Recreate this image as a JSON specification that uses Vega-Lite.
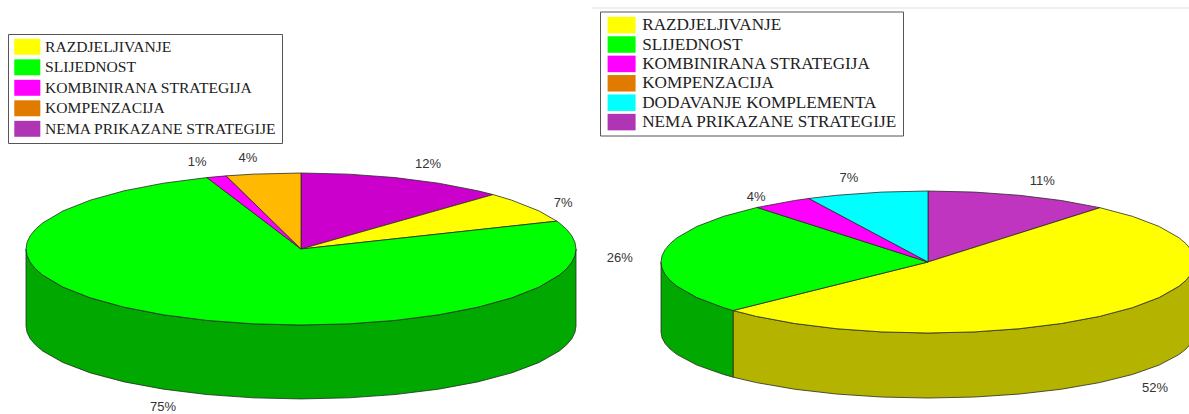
{"$schema":"https://vega.github.io/schema/vega-lite/v6.json","width":1189,"height":414,"padding":0,"autosize":{"type":"none"},"background":"white","config":{"view":{"stroke":null}},
"datasets":{
"lwall":[{"s":"SLIJEDNOST","o":1,"u":1,"v":0},{"s":"SLIJEDNOST","o":2,"u":0.9962,"v":-0.0872},{"s":"SLIJEDNOST","o":3,"u":0.9848,"v":-0.1736},{"s":"SLIJEDNOST","o":4,"u":0.9659,"v":-0.2588},{"s":"SLIJEDNOST","o":5,"u":0.9397,"v":-0.342},{"s":"SLIJEDNOST","o":6,"u":0.866,"v":-0.5},{"s":"SLIJEDNOST","o":7,"u":0.766,"v":-0.6428},{"s":"SLIJEDNOST","o":8,"u":0.6428,"v":-0.766},{"s":"SLIJEDNOST","o":9,"u":0.5,"v":-0.866},{"s":"SLIJEDNOST","o":10,"u":0.342,"v":-0.9397},{"s":"SLIJEDNOST","o":11,"u":0.1736,"v":-0.9848},{"s":"SLIJEDNOST","o":12,"u":0,"v":-1},{"s":"SLIJEDNOST","o":13,"u":-0.1736,"v":-0.9848},{"s":"SLIJEDNOST","o":14,"u":-0.342,"v":-0.9397},{"s":"SLIJEDNOST","o":15,"u":-0.5,"v":-0.866},{"s":"SLIJEDNOST","o":16,"u":-0.6428,"v":-0.766},{"s":"SLIJEDNOST","o":17,"u":-0.766,"v":-0.6428},{"s":"SLIJEDNOST","o":18,"u":-0.866,"v":-0.5},{"s":"SLIJEDNOST","o":19,"u":-0.9397,"v":-0.342},{"s":"SLIJEDNOST","o":20,"u":-0.9659,"v":-0.2588},{"s":"SLIJEDNOST","o":21,"u":-0.9848,"v":-0.1736},{"s":"SLIJEDNOST","o":22,"u":-0.9962,"v":-0.0872},{"s":"SLIJEDNOST","o":23,"u":-1,"v":0},
{"s":"SLIJEDNOST","o":24,"u":-1,"v":-1.013},{"s":"SLIJEDNOST","o":25,"u":-0.9962,"v":-1.0967},{"s":"SLIJEDNOST","o":26,"u":-0.9848,"v":-1.1797},{"s":"SLIJEDNOST","o":27,"u":-0.9659,"v":-1.2614},{"s":"SLIJEDNOST","o":28,"u":-0.9397,"v":-1.3413},{"s":"SLIJEDNOST","o":29,"u":-0.866,"v":-1.493},{"s":"SLIJEDNOST","o":30,"u":-0.766,"v":-1.6301},{"s":"SLIJEDNOST","o":31,"u":-0.6428,"v":-1.7484},{"s":"SLIJEDNOST","o":32,"u":-0.5,"v":-1.8444},{"s":"SLIJEDNOST","o":33,"u":-0.342,"v":-1.9151},{"s":"SLIJEDNOST","o":34,"u":-0.1736,"v":-1.9584},{"s":"SLIJEDNOST","o":35,"u":0,"v":-1.973},{"s":"SLIJEDNOST","o":36,"u":0.1736,"v":-1.9584},{"s":"SLIJEDNOST","o":37,"u":0.342,"v":-1.9151},{"s":"SLIJEDNOST","o":38,"u":0.5,"v":-1.8444},{"s":"SLIJEDNOST","o":39,"u":0.6428,"v":-1.7484},{"s":"SLIJEDNOST","o":40,"u":0.766,"v":-1.6301},{"s":"SLIJEDNOST","o":41,"u":0.866,"v":-1.493},{"s":"SLIJEDNOST","o":42,"u":0.9397,"v":-1.3413},{"s":"SLIJEDNOST","o":43,"u":0.9659,"v":-1.2614},{"s":"SLIJEDNOST","o":44,"u":0.9848,"v":-1.1797},{"s":"SLIJEDNOST","o":45,"u":0.9962,"v":-1.0967},{"s":"SLIJEDNOST","o":46,"u":1,"v":-1.013},{"s":"SLIJEDNOST","o":47,"u":1,"v":0}],
"ltop":[
{"s":"NEMA","o":1,"u":0,"v":0},{"s":"NEMA","o":2,"u":0,"v":1},{"s":"NEMA","o":3,"u":0.1736,"v":0.9848},{"s":"NEMA","o":4,"u":0.342,"v":0.9397},{"s":"NEMA","o":5,"u":0.5,"v":0.866},{"s":"NEMA","o":6,"u":0.6428,"v":0.766},{"s":"NEMA","o":7,"u":0.6984,"v":0.7157},{"s":"NEMA","o":8,"u":0,"v":0},
{"s":"RAZ","o":1,"u":0,"v":0},{"s":"RAZ","o":2,"u":0.6984,"v":0.7157},{"s":"RAZ","o":3,"u":0.766,"v":0.6428},{"s":"RAZ","o":4,"u":0.866,"v":0.5},{"s":"RAZ","o":5,"u":0.9304,"v":0.3665},{"s":"RAZ","o":6,"u":0,"v":0},
{"s":"SLI","o":1,"u":0,"v":0},{"s":"SLI","o":2,"u":0.9304,"v":0.3665},{"s":"SLI","o":3,"u":0.9397,"v":0.342},{"s":"SLI","o":4,"u":0.9659,"v":0.2588},{"s":"SLI","o":5,"u":0.9848,"v":0.1736},{"s":"SLI","o":6,"u":0.9962,"v":0.0872},{"s":"SLI","o":7,"u":1,"v":0},{"s":"SLI","o":8,"u":0.9962,"v":-0.0872},{"s":"SLI","o":9,"u":0.9848,"v":-0.1736},{"s":"SLI","o":10,"u":0.9659,"v":-0.2588},{"s":"SLI","o":11,"u":0.9397,"v":-0.342},{"s":"SLI","o":12,"u":0.866,"v":-0.5},{"s":"SLI","o":13,"u":0.766,"v":-0.6428},{"s":"SLI","o":14,"u":0.6428,"v":-0.766},{"s":"SLI","o":15,"u":0.5,"v":-0.866},{"s":"SLI","o":16,"u":0.342,"v":-0.9397},{"s":"SLI","o":17,"u":0.1736,"v":-0.9848},{"s":"SLI","o":18,"u":0,"v":-1},{"s":"SLI","o":19,"u":-0.1736,"v":-0.9848},{"s":"SLI","o":20,"u":-0.342,"v":-0.9397},{"s":"SLI","o":21,"u":-0.5,"v":-0.866},{"s":"SLI","o":22,"u":-0.6428,"v":-0.766},{"s":"SLI","o":23,"u":-0.766,"v":-0.6428},{"s":"SLI","o":24,"u":-0.866,"v":-0.5},{"s":"SLI","o":25,"u":-0.9397,"v":-0.342},{"s":"SLI","o":26,"u":-0.9659,"v":-0.2588},{"s":"SLI","o":27,"u":-0.9848,"v":-0.1736},{"s":"SLI","o":28,"u":-0.9962,"v":-0.0872},{"s":"SLI","o":29,"u":-1,"v":0},{"s":"SLI","o":30,"u":-0.9962,"v":0.0872},{"s":"SLI","o":31,"u":-0.9848,"v":0.1736},{"s":"SLI","o":32,"u":-0.9659,"v":0.2588},{"s":"SLI","o":33,"u":-0.9397,"v":0.342},{"s":"SLI","o":34,"u":-0.866,"v":0.5},{"s":"SLI","o":35,"u":-0.766,"v":0.6428},{"s":"SLI","o":36,"u":-0.6428,"v":0.766},{"s":"SLI","o":37,"u":-0.5,"v":0.866},{"s":"SLI","o":38,"u":-0.342,"v":0.9397},{"s":"SLI","o":39,"u":0,"v":0},
{"s":"KOMB","o":1,"u":0,"v":0},{"s":"KOMB","o":2,"u":-0.342,"v":0.9397},{"s":"KOMB","o":3,"u":-0.2723,"v":0.9622},{"s":"KOMB","o":4,"u":0,"v":0},
{"s":"KOMP","o":1,"u":0,"v":0},{"s":"KOMP","o":2,"u":-0.2723,"v":0.9622},{"s":"KOMP","o":3,"u":-0.1736,"v":0.9848},{"s":"KOMP","o":4,"u":0,"v":1},{"s":"KOMP","o":5,"u":0,"v":0}],
"rwall":[
{"s":"RAZ","o":1,"u":1,"v":0},{"s":"RAZ","o":2,"u":0.9962,"v":-0.0872},{"s":"RAZ","o":3,"u":0.9848,"v":-0.1736},{"s":"RAZ","o":4,"u":0.9659,"v":-0.2588},{"s":"RAZ","o":5,"u":0.9397,"v":-0.342},{"s":"RAZ","o":6,"u":0.866,"v":-0.5},{"s":"RAZ","o":7,"u":0.766,"v":-0.6428},{"s":"RAZ","o":8,"u":0.6428,"v":-0.766},{"s":"RAZ","o":9,"u":0.5,"v":-0.866},{"s":"RAZ","o":10,"u":0.342,"v":-0.9397},{"s":"RAZ","o":11,"u":0.1736,"v":-0.9848},{"s":"RAZ","o":12,"u":0,"v":-1},{"s":"RAZ","o":13,"u":-0.1736,"v":-0.9848},{"s":"RAZ","o":14,"u":-0.342,"v":-0.9397},{"s":"RAZ","o":15,"u":-0.5,"v":-0.866},{"s":"RAZ","o":16,"u":-0.6428,"v":-0.766},{"s":"RAZ","o":17,"u":-0.7302,"v":-0.6833},
{"s":"RAZ","o":18,"u":-0.7302,"v":-1.6215},{"s":"RAZ","o":19,"u":-0.6428,"v":-1.6984},{"s":"RAZ","o":20,"u":-0.5,"v":-1.7914},{"s":"RAZ","o":21,"u":-0.342,"v":-1.8599},{"s":"RAZ","o":22,"u":-0.1736,"v":-1.9019},{"s":"RAZ","o":23,"u":0,"v":-1.916},{"s":"RAZ","o":24,"u":0.1736,"v":-1.9019},{"s":"RAZ","o":25,"u":0.342,"v":-1.8599},{"s":"RAZ","o":26,"u":0.5,"v":-1.7914},{"s":"RAZ","o":27,"u":0.6428,"v":-1.6984},{"s":"RAZ","o":28,"u":0.766,"v":-1.5838},{"s":"RAZ","o":29,"u":0.866,"v":-1.451},{"s":"RAZ","o":30,"u":0.9397,"v":-1.3041},{"s":"RAZ","o":31,"u":0.9659,"v":-1.2267},{"s":"RAZ","o":32,"u":0.9848,"v":-1.1474},{"s":"RAZ","o":33,"u":0.9962,"v":-1.0671},{"s":"RAZ","o":34,"u":1,"v":-0.986},{"s":"RAZ","o":35,"u":1,"v":0},
{"s":"SLI","o":1,"u":-0.7302,"v":-0.6833},{"s":"SLI","o":2,"u":-0.766,"v":-0.6428},{"s":"SLI","o":3,"u":-0.866,"v":-0.5},{"s":"SLI","o":4,"u":-0.9397,"v":-0.342},{"s":"SLI","o":5,"u":-0.9659,"v":-0.2588},{"s":"SLI","o":6,"u":-0.9848,"v":-0.1736},{"s":"SLI","o":7,"u":-0.9962,"v":-0.0872},{"s":"SLI","o":8,"u":-1,"v":0},{"s":"SLI","o":9,"u":-1,"v":-0.986},{"s":"SLI","o":10,"u":-0.9962,"v":-1.0671},{"s":"SLI","o":11,"u":-0.9848,"v":-1.1474},{"s":"SLI","o":12,"u":-0.9659,"v":-1.2267},{"s":"SLI","o":13,"u":-0.9397,"v":-1.3041},{"s":"SLI","o":14,"u":-0.866,"v":-1.451},{"s":"SLI","o":15,"u":-0.766,"v":-1.5838},{"s":"SLI","o":16,"u":-0.7302,"v":-1.6215},{"s":"SLI","o":17,"u":-0.7302,"v":-0.6833}],
"rtop":[
{"s":"NEMA","o":1,"u":0,"v":0},{"s":"NEMA","o":2,"u":0,"v":1},{"s":"NEMA","o":3,"u":0.1736,"v":0.9848},{"s":"NEMA","o":4,"u":0.342,"v":0.9397},{"s":"NEMA","o":5,"u":0.5,"v":0.866},{"s":"NEMA","o":6,"u":0.6441,"v":0.7649},{"s":"NEMA","o":7,"u":0,"v":0},
{"s":"RAZ","o":1,"u":0,"v":0},{"s":"RAZ","o":2,"u":0.6441,"v":0.7649},{"s":"RAZ","o":3,"u":0.766,"v":0.6428},{"s":"RAZ","o":4,"u":0.866,"v":0.5},{"s":"RAZ","o":5,"u":0.9397,"v":0.342},{"s":"RAZ","o":6,"u":0.9659,"v":0.2588},{"s":"RAZ","o":7,"u":0.9848,"v":0.1736},{"s":"RAZ","o":8,"u":0.9962,"v":0.0872},{"s":"RAZ","o":9,"u":1,"v":0},{"s":"RAZ","o":10,"u":0.9962,"v":-0.0872},{"s":"RAZ","o":11,"u":0.9848,"v":-0.1736},{"s":"RAZ","o":12,"u":0.9659,"v":-0.2588},{"s":"RAZ","o":13,"u":0.9397,"v":-0.342},{"s":"RAZ","o":14,"u":0.866,"v":-0.5},{"s":"RAZ","o":15,"u":0.766,"v":-0.6428},{"s":"RAZ","o":16,"u":0.6428,"v":-0.766},{"s":"RAZ","o":17,"u":0.5,"v":-0.866},{"s":"RAZ","o":18,"u":0.342,"v":-0.9397},{"s":"RAZ","o":19,"u":0.1736,"v":-0.9848},{"s":"RAZ","o":20,"u":0,"v":-1},{"s":"RAZ","o":21,"u":-0.1736,"v":-0.9848},{"s":"RAZ","o":22,"u":-0.342,"v":-0.9397},{"s":"RAZ","o":23,"u":-0.5,"v":-0.866},{"s":"RAZ","o":24,"u":-0.6428,"v":-0.766},{"s":"RAZ","o":25,"u":-0.7302,"v":-0.6833},{"s":"RAZ","o":26,"u":0,"v":0},
{"s":"SLI","o":1,"u":0,"v":0},{"s":"SLI","o":2,"u":-0.7302,"v":-0.6833},{"s":"SLI","o":3,"u":-0.766,"v":-0.6428},{"s":"SLI","o":4,"u":-0.866,"v":-0.5},{"s":"SLI","o":5,"u":-0.9397,"v":-0.342},{"s":"SLI","o":6,"u":-0.9659,"v":-0.2588},{"s":"SLI","o":7,"u":-0.9848,"v":-0.1736},{"s":"SLI","o":8,"u":-0.9962,"v":-0.0872},{"s":"SLI","o":9,"u":-1,"v":0},{"s":"SLI","o":10,"u":-0.9962,"v":0.0872},{"s":"SLI","o":11,"u":-0.9848,"v":0.1736},{"s":"SLI","o":12,"u":-0.9659,"v":0.2588},{"s":"SLI","o":13,"u":-0.9397,"v":0.342},{"s":"SLI","o":14,"u":-0.866,"v":0.5},{"s":"SLI","o":15,"u":-0.766,"v":0.6428},{"s":"SLI","o":16,"u":-0.6401,"v":0.7683},{"s":"SLI","o":17,"u":0,"v":0},
{"s":"KOMB","o":1,"u":0,"v":0},{"s":"KOMB","o":2,"u":-0.6401,"v":0.7683},{"s":"KOMB","o":3,"u":-0.5,"v":0.866},{"s":"KOMB","o":4,"u":-0.4462,"v":0.8949},{"s":"KOMB","o":5,"u":0,"v":0},
{"s":"DOD","o":1,"u":0,"v":0},{"s":"DOD","o":2,"u":-0.4462,"v":0.8949},{"s":"DOD","o":3,"u":-0.342,"v":0.9397},{"s":"DOD","o":4,"u":-0.1736,"v":0.9848},{"s":"DOD","o":5,"u":0,"v":1},{"s":"DOD","o":6,"u":0,"v":0}],
"llab":[{"t":"1%","u":-0.378,"v":1.145},{"t":"4%","u":-0.193,"v":1.197},{"t":"12%","u":0.462,"v":1.118},{"t":"7%","u":0.953,"v":0.605},{"t":"75%","u":-0.502,"v":-2.079}],
"rlab":[{"t":"4%","u":-0.644,"v":0.915},{"t":"7%","u":-0.296,"v":1.183},{"t":"11%","u":0.428,"v":1.141},{"t":"52%","u":0.85,"v":-1.775},{"t":"26%","u":-1.154,"v":0.056}],
"lleg":[{"strategija":"RAZDJELJIVANJE","udio":7},{"strategija":"SLIJEDNOST","udio":75},{"strategija":"KOMBINIRANA STRATEGIJA","udio":1},{"strategija":"KOMPENZACIJA","udio":4},{"strategija":"NEMA PRIKAZANE STRATEGIJE","udio":12}],
"rleg":[{"strategija":"RAZDJELJIVANJE","udio":52},{"strategija":"SLIJEDNOST","udio":26},{"strategija":"KOMBINIRANA STRATEGIJA","udio":4},{"strategija":"KOMPENZACIJA","udio":0},{"strategija":"DODAVANJE KOMPLEMENTA","udio":7},{"strategija":"NEMA PRIKAZANE STRATEGIJE","udio":11}],
"line":[{"x":592,"x2":1189,"y":8}]
},
"layer":[
{"data":{"name":"line"},"mark":{"type":"rule","color":"#dfdfe3","strokeWidth":1},"encoding":{"x":{"field":"x","type":"quantitative","axis":null,"scale":{"domain":[0,1189],"range":[0,1189]}},"x2":{"field":"x2"},"y":{"field":"y","type":"quantitative","axis":null,"scale":{"domain":[0,414],"range":[0,414]}}}},
{"data":{"name":"lwall"},"mark":{"type":"line","stroke":"#1e2e1e","strokeWidth":0.8},"encoding":{"x":{"field":"u","type":"quantitative","axis":null,"scale":{"domain":[-1,1],"range":[26,576]}},"y":{"field":"v","type":"quantitative","axis":null,"scale":{"domain":[-1,1],"range":[325,173]}},"order":{"field":"o"},"fill":{"field":"s","legend":null,"scale":{"domain":["SLIJEDNOST"],"range":["#00a800"]}}}},
{"data":{"name":"ltop"},"mark":{"type":"line","stroke":"#2a2a2a","strokeWidth":0.8},"encoding":{"x":{"field":"u","type":"quantitative","axis":null,"scale":{"domain":[-1,1],"range":[26,576]}},"y":{"field":"v","type":"quantitative","axis":null,"scale":{"domain":[-1,1],"range":[325,173]}},"order":{"field":"o"},"fill":{"field":"s","legend":null,"scale":{"domain":["RAZ","SLI","KOMB","KOMP","NEMA"],"range":["#ffff00","#00ff00","#ff00ff","#ffb900","#cc00cc"]}}}},
{"data":{"name":"llab"},"mark":{"type":"text","font":"Liberation Sans","fontSize":13,"color":"#333333"},"encoding":{"x":{"field":"u","type":"quantitative","axis":null,"scale":{"domain":[-1,1],"range":[26,576]}},"y":{"field":"v","type":"quantitative","axis":null,"scale":{"domain":[-1,1],"range":[325,173]}},"text":{"field":"t"}}},
{"data":{"name":"rwall"},"mark":{"type":"line","stroke":"#2a2a1e","strokeWidth":0.8},"encoding":{"x":{"field":"u","type":"quantitative","axis":null,"scale":{"domain":[-1,1],"range":[661,1195]}},"y":{"field":"v","type":"quantitative","axis":null,"scale":{"domain":[-1,1],"range":[333,191]}},"order":{"field":"o"},"fill":{"field":"s","legend":null,"scale":{"domain":["RAZ","SLI"],"range":["#b3b300","#00a800"]}}}},
{"data":{"name":"rtop"},"mark":{"type":"line","stroke":"#2a2a2a","strokeWidth":0.8},"encoding":{"x":{"field":"u","type":"quantitative","axis":null,"scale":{"domain":[-1,1],"range":[661,1195]}},"y":{"field":"v","type":"quantitative","axis":null,"scale":{"domain":[-1,1],"range":[333,191]}},"order":{"field":"o"},"fill":{"field":"s","legend":null,"scale":{"domain":["RAZ","SLI","KOMB","DOD","NEMA"],"range":["#ffff00","#00ff00","#ff00ff","#00ffff","#c035c0"]}}}},
{"data":{"name":"rlab"},"mark":{"type":"text","font":"Liberation Sans","fontSize":13,"color":"#333333"},"encoding":{"x":{"field":"u","type":"quantitative","axis":null,"scale":{"domain":[-1,1],"range":[661,1195]}},"y":{"field":"v","type":"quantitative","axis":null,"scale":{"domain":[-1,1],"range":[333,191]}},"text":{"field":"t"}}},
{"data":{"name":"lleg"},"mark":{"type":"point","filled":true,"size":0,"opacity":1},"encoding":{"fill":{"field":"strategija","scale":{"domain":["RAZDJELJIVANJE","SLIJEDNOST","KOMBINIRANA STRATEGIJA","KOMPENZACIJA","NEMA PRIKAZANE STRATEGIJE"],"range":["#ffff00","#00ff00","#ff00ff","#e07b00","#b035b5"]},"legend":{"title":null,"orient":"none","legendX":8,"legendY":34,"padding":5,"fillColor":"white","strokeColor":"#555555","labelFont":"Liberation Serif","labelFontSize":15.6,"labelColor":"#222222","labelLimit":500,"symbolType":"M-1.86,-1.14H1.86V1.14H-1.86Z","symbolSize":196,"symbolStrokeWidth":0,"symbolOpacity":1,"symbolOffset":6.5,"labelOffset":10,"rowPadding":2.5}}}},
{"data":{"name":"rleg"},"mark":{"type":"point","filled":true,"size":0,"opacity":1},"encoding":{"fill":{"field":"strategija","scale":{"domain":["RAZDJELJIVANJE","SLIJEDNOST","KOMBINIRANA STRATEGIJA","KOMPENZACIJA","DODAVANJE KOMPLEMENTA","NEMA PRIKAZANE STRATEGIJE"],"range":["#ffff00","#00ff00","#ff00ff","#e07b00","#00ffff","#b035b5"]},"legend":{"title":null,"orient":"none","legendX":600,"legendY":11.5,"padding":5,"fillColor":"white","strokeColor":"#555555","labelFont":"Liberation Serif","labelFontSize":17.2,"labelColor":"#222222","labelLimit":500,"symbolType":"M-2,-1.18H2V1.18H-2Z","symbolSize":196,"symbolStrokeWidth":0,"symbolOpacity":1,"symbolOffset":8,"labelOffset":12,"rowPadding":1.4}}}}
],
"resolve":{"scale":{"x":"independent","y":"independent","fill":"independent"},"legend":{"fill":"independent"}}}
